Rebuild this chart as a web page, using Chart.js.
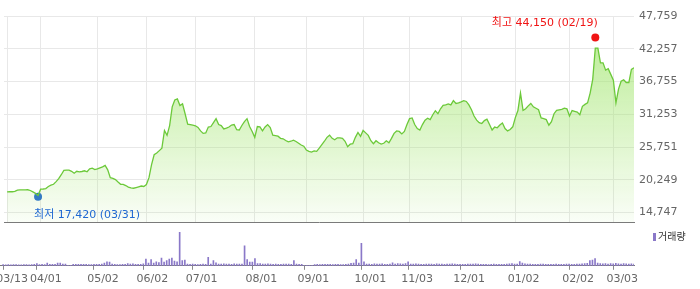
<!DOCTYPE html>
<html>
<head>
<meta charset="utf-8">
<script src="https://cdn.jsdelivr.net/npm/chart.js@4.4.1/dist/chart.umd.min.js"></script>
<style>
  body { margin: 0; background: #fff; }
  #wrap { position: relative; width: 700px; height: 289px; overflow: hidden; }
  #priceBox { position: absolute; left: 0; top: 0; width: 700px; height: 226px; }
  #volBox { position: absolute; left: 0; top: 226px; width: 700px; height: 63px; }
</style>
</head>
<body>
<div id="wrap">
  <div id="priceBox"><canvas id="priceChart"></canvas></div>
  <div id="volBox"><canvas id="volChart"></canvas></div>
</div>
<script>
// daily close, one per trading day, 2025-03-13 .. 2026-03-13
const closes = [
  18220, 18250, 18250, 18300, 18510, 18550, 18550, 18550, 18580, 18460,
  18220, 17970, 17640, 18680, 18710, 18790, 19130, 19370, 19500, 19950,
  20450, 21110, 21850, 21880, 21880, 21680, 21350, 21680, 21600, 21650,
  21770, 21600, 22100, 22210, 21960, 22100, 22260, 22430, 22680, 21930,
  20610, 20500, 20280, 19870, 19500, 19500, 19290, 19040, 18910, 18840,
  18960, 19080, 19210, 19130, 19460, 20610, 22810, 24460, 24740, 25150,
  25570, 28540, 27720, 29360, 32510, 33660, 33830, 32720, 33000, 31350,
  29610, 29530, 29450, 29320, 29040, 28460, 28050, 28130, 29120, 29200,
  29860, 30520, 29530, 29370, 28790, 28920, 29120, 29450, 29530, 28670,
  28620, 29370, 30030, 30520, 29200, 28370, 27380, 29200, 29150, 28490,
  29120, 29530, 29040, 27760, 27680, 27580, 27220, 27140, 26860, 26630,
  26730, 26920, 26690, 26390, 26100, 25900, 25250, 25020, 24910, 25120,
  25040, 25570, 26150, 26730, 27380, 27750, 27220, 26970, 27300, 27300,
  27220, 26730, 25820, 26230, 26310, 27380, 28210, 27550, 28540, 28130,
  27710, 26810, 26310, 26810, 26480, 26260, 26390, 26810, 26480, 27220,
  28050, 28460, 28370, 27960, 28370, 29530, 30520, 30640, 29530, 28870,
  28620, 29530, 30270, 30600, 30360, 31180, 31850, 31350, 32180, 32750,
  32840, 33000, 32840, 33550, 33080, 33170, 33330, 33550, 33410, 32840,
  32010, 30970, 30270, 29860, 29700, 30190, 30440, 29530, 28620, 29120,
  28990, 29450, 29780, 28870, 28460, 28710, 29150, 30690, 31890, 34820,
  31890, 32180, 32670, 33080, 32510, 32260, 32010, 30640, 30520, 30360,
  29420, 30030, 31350, 31930, 32010, 32090, 32290, 32180, 30970, 31890,
  31760, 31630, 31190, 32590, 32920, 33170, 34820, 37130, 42370, 42370,
  39890, 39890, 38670, 38900, 37960, 36970, 33170, 35480, 36800, 37050,
  36590, 36590, 38780, 39060
];

// daily volume, thousand shares
const volumes = [
  120, 110, 130, 100, 120, 140, 110, 100, 120, 130,
  110, 140, 150, 230, 140, 150, 130, 300, 160, 150,
  170, 290, 300, 200, 180, 60, 60, 150, 170, 160,
  150, 170, 150, 140, 130, 150, 160, 170, 180, 300,
  430, 400, 180, 150, 140, 130, 160, 150, 230, 200,
  210, 150, 170, 160, 210, 730, 300, 670, 300, 430,
  350, 830, 400, 570, 730, 830, 500, 430, 3630, 570,
  630, 200, 150, 180, 160, 140, 170, 200, 160, 930,
  200, 570, 330, 200, 190, 210, 200, 180, 170, 220,
  200, 190, 180, 2170, 670, 400, 400, 770, 250, 250,
  200, 180, 210, 190, 170, 180, 160, 170, 190, 180,
  200, 170, 570, 200, 160, 150, 60, 60, 60, 60,
  140, 150, 130, 150, 170, 160, 150, 140, 160, 150,
  130, 140, 150, 180, 260, 300, 670, 300, 2430, 430,
  200, 180, 170, 210, 190, 180, 220, 170, 160, 190,
  330, 200, 230, 220, 190, 240, 430, 200, 180, 210,
  190, 170, 160, 180, 200, 190, 170, 210, 200, 180,
  160, 190, 200, 220, 180, 170, 160, 150, 170, 190,
  180, 200, 210, 180, 170, 160, 150, 140, 160, 180,
  170, 160, 150, 170, 190, 210, 230, 200, 190, 470,
  300, 220, 200, 180, 170, 160, 170, 180, 190, 170,
  160, 150, 170, 180, 160, 150, 170, 180, 190, 170,
  160, 180, 200, 210, 230, 260, 570, 630, 770, 300,
  240, 220, 250, 200, 230, 210, 260, 220, 200, 230,
  210, 190, 220, 200
];

const tickIdx = [0, 13, 35, 54, 73, 96, 116, 138, 156, 176, 197, 218, 235];
const tickLabels = ['03/13', '04/01', '05/02', '06/02', '07/01', '08/01', '09/01',
                    '10/01', '11/03', '12/01', '01/02', '02/02', '03/03'];
const priceTicks = [14747, 20249, 25751, 31253, 36755, 42257, 47759];

// low / high marks
const markIdx = [12, 228];
const markValues = [17420, 44150];
const markLabels = ['최저 17,420 (03/31)', '최고 44,150 (02/19)'];
const markColors = ['#1f68d2', '#f01414'];

const FONT = '"DejaVu Sans", "Noto Sans CJK KR", sans-serif';
Chart.defaults.font.family = FONT;
Chart.defaults.font.size = 11;
Chart.defaults.color = '#666';

const xMin = -1.2;
const xMax = closes.length - 1;

function areaFill(context) {
    const chart = context.chart;
    const area = chart.chartArea;
    if (!area) {
        return 'rgba(170, 232, 120, 0.4)';
    }
    const g = chart.ctx.createLinearGradient(0, area.top, 0, area.bottom);
    g.addColorStop(0, 'rgba(165, 230, 115, 0.8)');
    g.addColorStop(1, 'rgba(165, 230, 115, 0.06)');
    return g;
}

function setTicks(values) {
    return function(scale) {
        scale.ticks = values.map(v => ({ value: v }));
    };
}

function noPadding(scale) {
    scale.paddingLeft = 0;
    scale.paddingRight = 0;
    scale.paddingTop = 0;
    scale.paddingBottom = 0;
}

const markLabelPlugin = {
    id: 'markLabels',
    afterDatasetsDraw(chart) {
        const meta = chart.getDatasetMeta(1);
        const c = chart.ctx;
        c.save();
        c.font = '11px ' + FONT;
        c.textBaseline = 'middle';
        meta.data.forEach((pt, k) => {
            c.fillStyle = markColors[k];
            if (k === 0) {
                c.textAlign = 'left';
                c.fillText(markLabels[k], pt.x - 4, pt.y + 18.5);
            } else {
                c.textAlign = 'right';
                c.fillText(markLabels[k], pt.x + 2.5, pt.y - 14.5);
            }
        });
        c.restore();
    }
};

const priceChart = new Chart(document.getElementById('priceChart'), {
    type: 'line',
    data: {
        datasets: [{
            label: '종가',
            data: closes.map((v, i) => ({ x: i, y: v })),
            borderColor: '#6cc93a',
            borderWidth: 1.3,
            pointRadius: 0,
            tension: 0,
            fill: 'start',
            backgroundColor: areaFill
        }, {
            label: 'mark',
            data: markIdx.map((x, k) => ({ x: x, y: markValues[k] })),
            showLine: false,
            pointRadius: 4,
            pointBorderWidth: 0,
            pointBackgroundColor: markColors,
            pointBorderColor: markColors
        }]
    },
    options: {
        responsive: true,
        maintainAspectRatio: false,
        animation: false,
        layout: { padding: { top: 16, right: 0, bottom: 1, left: 0 } },
        plugins: {
            legend: { display: false },
            tooltip: { enabled: false }
        },
        scales: {
            x: {
                type: 'linear',
                min: xMin,
                max: xMax,
                afterBuildTicks: setTicks(tickIdx),
                ticks: { display: false },
                grid: { color: '#e8e8e8', drawTicks: false },
                border: { display: true, color: '#7a7a7a', width: 1 }
            },
            y: {
                type: 'linear',
                position: 'right',
                min: 13169,
                max: 47759,
                afterBuildTicks: setTicks(priceTicks),
                afterFit: function(scale) {
                    noPadding(scale);
                    scale.width = 66;
                },
                ticks: {
                    padding: 5,
                    color: '#666',
                    callback: v => v.toLocaleString('en-US')
                },
                grid: { color: '#e8e8e8', drawTicks: false },
                border: { display: false }
            }
        }
    },
    plugins: [markLabelPlugin]
});

const volLegendPlugin = {
    id: 'volLegend',
    afterDraw(chart) {
        const c = chart.ctx;
        const x = chart.chartArea.right + 19;
        c.save();
        c.fillStyle = '#8a78c8';
        c.fillRect(x, 7, 3, 8);
        c.font = '10px ' + FONT;
        c.fillStyle = '#333';
        c.textAlign = 'left';
        c.textBaseline = 'middle';
        c.fillText('거래량', x + 5, 11.5);
        c.restore();
    }
};

const volChart = new Chart(document.getElementById('volChart'), {
    type: 'bar',
    data: {
        datasets: [{
            label: '거래량',
            data: volumes.map((v, i) => ({ x: i, y: v })),
            backgroundColor: '#8a78c8',
            barThickness: 1,
            borderWidth: 0
        }]
    },
    options: {
        responsive: true,
        maintainAspectRatio: false,
        animation: false,
        layout: { padding: { top: 2, right: 66, bottom: 0, left: 0 } },
        plugins: {
            legend: { display: false },
            tooltip: { enabled: false }
        },
        scales: {
            x: {
                type: 'linear',
                offset: false,
                min: xMin,
                max: xMax,
                afterBuildTicks: setTicks(tickIdx),
                afterFit: noPadding,
                ticks: {
                    autoSkip: false,
                    maxRotation: 0,
                    minRotation: 0,
                    padding: 3,
                    labelOffset: 9,
                    color: '#666',
                    callback: v => tickLabels[tickIdx.indexOf(v)]
                },
                grid: {
                    offset: false,
                    drawOnChartArea: false,
                    drawTicks: true,
                    tickLength: 4,
                    tickColor: '#8a8a8a'
                },
                border: { display: true, color: '#7a7a7a', width: 1 }
            },
            y: {
                display: false,
                min: 0,
                max: 4100
            }
        }
    },
    plugins: [volLegendPlugin]
});
</script>
</body>
</html>
